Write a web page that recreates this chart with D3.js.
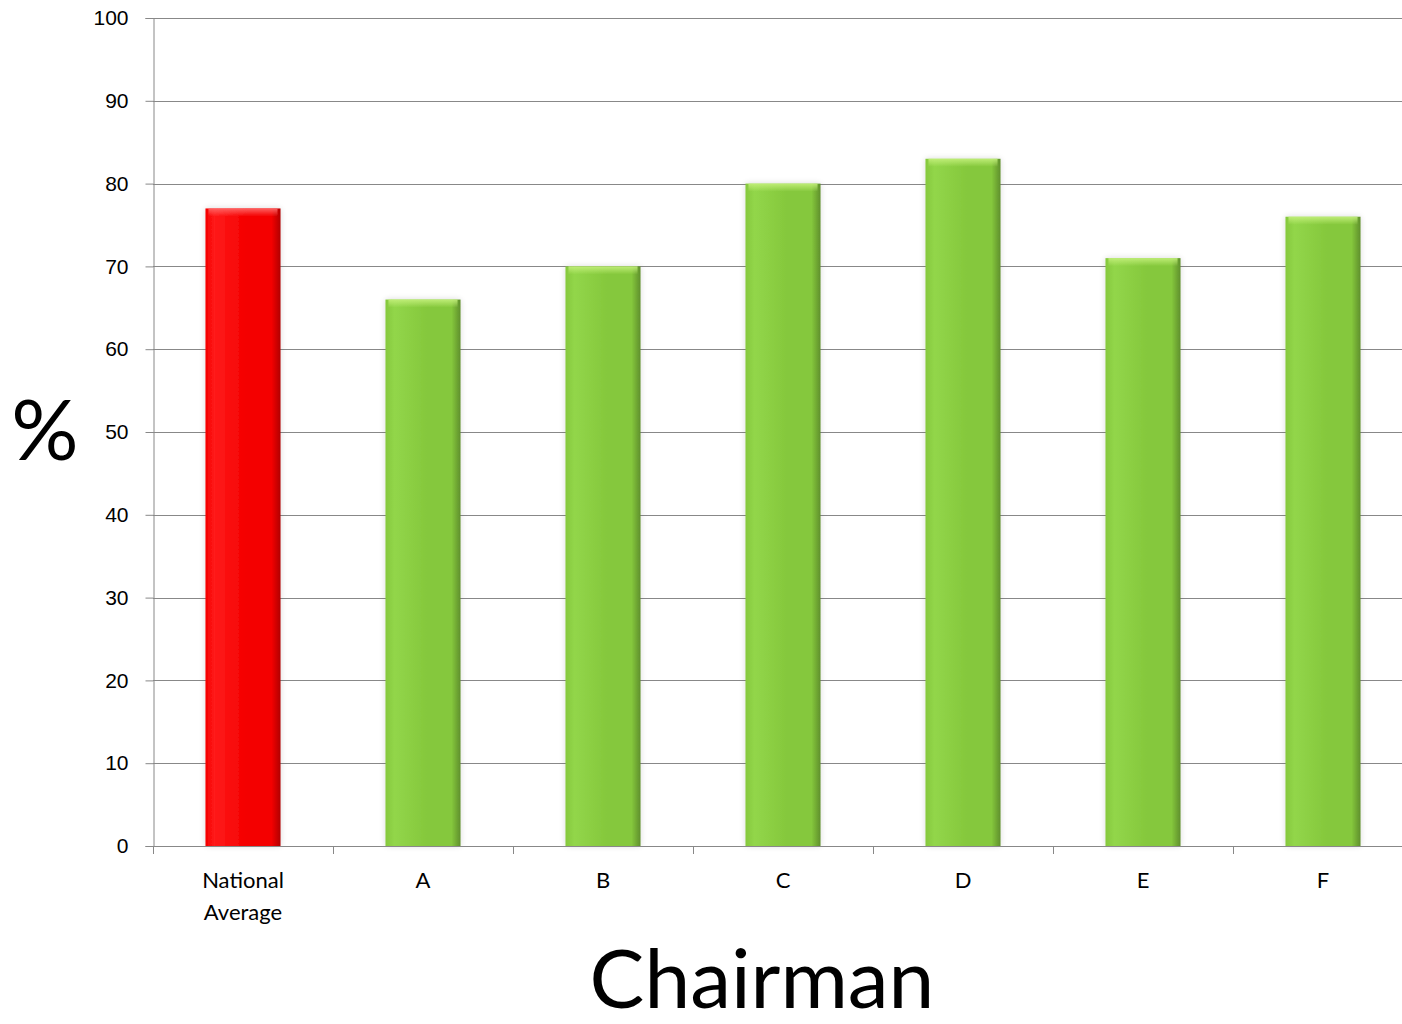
<!DOCTYPE html>
<html>
<head>
<meta charset="utf-8">
<script src="https://cdn.jsdelivr.net/npm/d3@7"></script>
<style>
  body { margin: 0; background: #fff; }
  svg { display: block; font-family: Lato, "Open Sans", sans-serif; }
</style>
</head>
<body>
<div id="vis"></div>
<script>
// values
const categories = ['National Average', 'A', 'B', 'C', 'D', 'E', 'F'];
const values = [77, 66, 70, 80, 83, 71, 76];
const yTicks = [0, 10, 20, 30, 40, 50, 60, 70, 80, 90, 100];

let dimensions = {
    width: 1402,
    height: 1024,
    margin: { top: 18, right: 0, bottom: 178, left: 153 }
};
dimensions.boundedWidth = dimensions.width - dimensions.margin.left - dimensions.margin.right;
dimensions.boundedHeight = dimensions.height - dimensions.margin.top - dimensions.margin.bottom;

const wrapper = d3.select('#vis')
    .append('svg')
    .attr('width', dimensions.width)
    .attr('height', dimensions.height);

const defs = wrapper.append('defs');

// horizontal shading + top bevel, one per colour
function makeGradients(id, light, mid, dark, top) {
    const h = defs.append('linearGradient').attr('id', id).attr('x1', 0).attr('x2', 1).attr('y1', 0).attr('y2', 0);
    h.append('stop').attr('offset', '0%').attr('stop-color', mid);
    h.append('stop').attr('offset', '12%').attr('stop-color', light);
    h.append('stop').attr('offset', '55%').attr('stop-color', mid);
    h.append('stop').attr('offset', '88%').attr('stop-color', mid);
    h.append('stop').attr('offset', '100%').attr('stop-color', dark);
    const v = defs.append('linearGradient').attr('id', id + '-top').attr('x1', 0).attr('x2', 0).attr('y1', 0).attr('y2', 1);
    v.append('stop').attr('offset', '0%').attr('stop-color', top).attr('stop-opacity', 0.9);
    v.append('stop').attr('offset', '100%').attr('stop-color', top).attr('stop-opacity', 0);
}
makeGradients('red', '#ff1a1a', '#f40000', '#b00000', '#ff6a6a');
makeGradients('green', '#92d64a', '#85c83c', '#5f8f2c', '#c4f07c');

const shadow = defs.append('filter').attr('id', 'shadow').attr('x', '-20%').attr('y', '-5%').attr('width', '140%').attr('height', '110%');
shadow.append('feGaussianBlur').attr('in', 'SourceAlpha').attr('stdDeviation', 3).attr('result', 'blur');
shadow.append('feComponentTransfer').append('feFuncA').attr('type', 'linear').attr('slope', 0.15);
const merge = shadow.append('feMerge');
merge.append('feMergeNode');
merge.append('feMergeNode').attr('in', 'SourceGraphic');

const bounds = wrapper.append('g')
    .attr('transform', `translate(${dimensions.margin.left},${dimensions.margin.top})`);

const pad = 0.583;
const xScale = d3.scaleBand()
    .domain(categories)
    .range([0, 1260])
    .paddingInner(pad)
    .paddingOuter(pad / 2);

const yScale = d3.scaleLinear()
    .domain([0, 100])
    .range([dimensions.boundedHeight, 0]);

// gridlines
bounds.append('g')
    .selectAll('line')
    .data(yTicks.filter(d => d > 0))
    .join('line')
    .attr('x1', 0)
    .attr('x2', dimensions.boundedWidth)
    .attr('y1', d => Math.round(yScale(d)) + 0.5)
    .attr('y2', d => Math.round(yScale(d)) + 0.5)
    .attr('stroke', '#888')
    .attr('stroke-width', 1);

// y axis
const yAxis = bounds.append('g')
    .attr('transform', 'translate(0.5,0)')
    .call(d3.axisLeft(yScale).tickValues(yTicks).tickSize(8).tickPadding(17));
yAxis.select('.domain').attr('stroke', '#888');
yAxis.selectAll('.tick line').attr('stroke', '#888');
yAxis.selectAll('.tick text')
    .attr('fill', '#000')
    .style('font-size', '21px');

// bars
const colorOf = (d, i) => i === 0 ? 'red' : 'green';
const barGroups = bounds.append('g')
    .selectAll('g')
    .data(values)
    .join('g')
    .attr('filter', 'url(#shadow)');

barGroups.append('rect')
    .attr('x', (d, i) => xScale(categories[i]))
    .attr('y', d => yScale(d))
    .attr('width', xScale.bandwidth())
    .attr('height', d => yScale(0) - yScale(d))
    .attr('fill', (d, i) => `url(#${colorOf(d, i)})`);

barGroups.append('rect')
    .attr('x', (d, i) => xScale(categories[i]) + 3)
    .attr('y', d => yScale(d))
    .attr('width', xScale.bandwidth() - 6)
    .attr('height', 8)
    .attr('fill', (d, i) => `url(#${colorOf(d, i)}-top)`);

// x axis line + ticks at category boundaries
const step = xScale.step();
const gap = step - xScale.bandwidth();
const xAxis = bounds.append('g')
    .attr('transform', `translate(0,${dimensions.boundedHeight})`);
xAxis.append('line')
    .attr('x1', 0)
    .attr('x2', dimensions.boundedWidth)
    .attr('y1', 0.5)
    .attr('y2', 0.5)
    .attr('stroke', '#888');
xAxis.selectAll('.xtick')
    .data(categories)
    .join('line')
    .attr('class', 'xtick')
    .attr('x1', d => Math.round(xScale(d) - gap / 2) + 0.5)
    .attr('x2', d => Math.round(xScale(d) - gap / 2) + 0.5)
    .attr('y1', 0)
    .attr('y2', 8)
    .attr('stroke', '#888');

const labels = xAxis.selectAll('.xlabel')
    .data(categories)
    .join('text')
    .attr('class', 'xlabel')
    .attr('text-anchor', 'middle')
    .attr('y', 42)
    .style('font-size', '22px')
    .attr('fill', '#000');
labels.each(function(d) {
    const words = d.split(' ');
    const t = d3.select(this);
    words.forEach((w, i) => {
        t.append('tspan')
            .attr('x', xScale(d) + xScale.bandwidth() / 2)
            .attr('dy', i === 0 ? 0 : 32)
            .text(w);
    });
});

// axis titles
wrapper.append('text')
    .attr('x', 762)
    .attr('y', 1008)
    .attr('text-anchor', 'middle')
    .style('font-size', '82px')
    .attr('fill', '#000')
    .text('Chairman');

wrapper.append('text')
    .attr('x', 45)
    .attr('y', 460)
    .attr('text-anchor', 'middle')
    .style('font-size', '84px')
    .attr('fill', '#000')
    .text('%');
</script>
</body>
</html>
